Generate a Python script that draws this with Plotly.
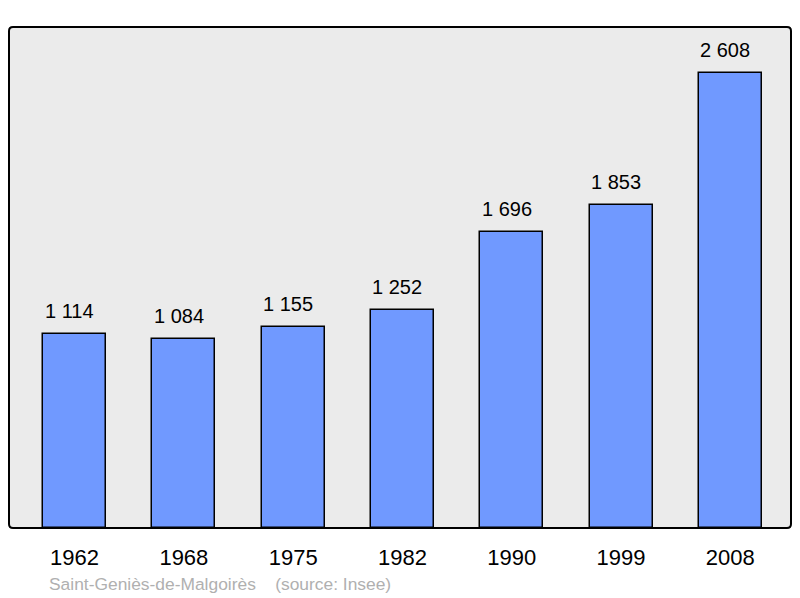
import plotly.graph_objects as go

years = ["1962", "1968", "1975", "1982", "1990", "1999", "2008"]
population = [1114, 1084, 1155, 1252, 1696, 1853, 2608]
labels = ["1 114", "1 084", "1 155", "1 252", "1 696", "1 853", "2 608"]
footer = "Saint-Geniès-de-Malgoirès    (source: Insee)"

xpos = list(range(len(years)))

fig = go.Figure()
fig.add_trace(go.Bar(
    x=xpos, y=population, width=0.576,
    marker=dict(color="#7099ff", line=dict(color="#000000", width=1.5)),
    hoverinfo="skip",
))

for x, v, t in zip(xpos, population, labels):
    fig.add_annotation(x=x, y=v, text=t, showarrow=False, yanchor="bottom",
                       yshift=10, xshift=-5,
                       font=dict(family="Liberation Sans, Arial", size=20, color="#000"))

fig.add_annotation(xref="paper", yref="paper", x=(47 - 9) / 782, y=-(584 - 528) / 501,
                   xanchor="left", yanchor="middle", text=footer, showarrow=False,
                   font=dict(family="Liberation Sans, Arial", size=17.4, color="#b0b0b0"))

# rounded border
W, H = 782.0, 501.0
r = 4.0
rx, ry = r / W, r / H
path = (f"M {rx},0 L {1-rx},0 Q 1,0 1,{ry} L 1,{1-ry} Q 1,1 {1-rx},1 "
        f"L {rx},1 Q 0,1 0,{1-ry} L 0,{ry} Q 0,0 {rx},0 Z")
fig.add_shape(type="path", xref="paper", yref="paper", path=path,
              line=dict(color="#000000", width=2), layer="above")

fig.update_layout(
    width=792, height=590,
    margin=dict(l=1, r=9, t=19, b=70),
    paper_bgcolor="#ffffff", plot_bgcolor="#ebebeb",
    showlegend=False,
    xaxis=dict(range=[-0.6, 6.555], tickvals=xpos, ticktext=years,
               showgrid=False, zeroline=False, ticks="", ticklabelstandoff=14,
               tickfont=dict(family="Liberation Sans, Arial", size=22, color="#000"),
               fixedrange=True),
    yaxis=dict(range=[0, 2872], showgrid=False, zeroline=False, showticklabels=False,
               ticks="", fixedrange=True),
    bargap=0,
)

fig.write_html("out.html")
